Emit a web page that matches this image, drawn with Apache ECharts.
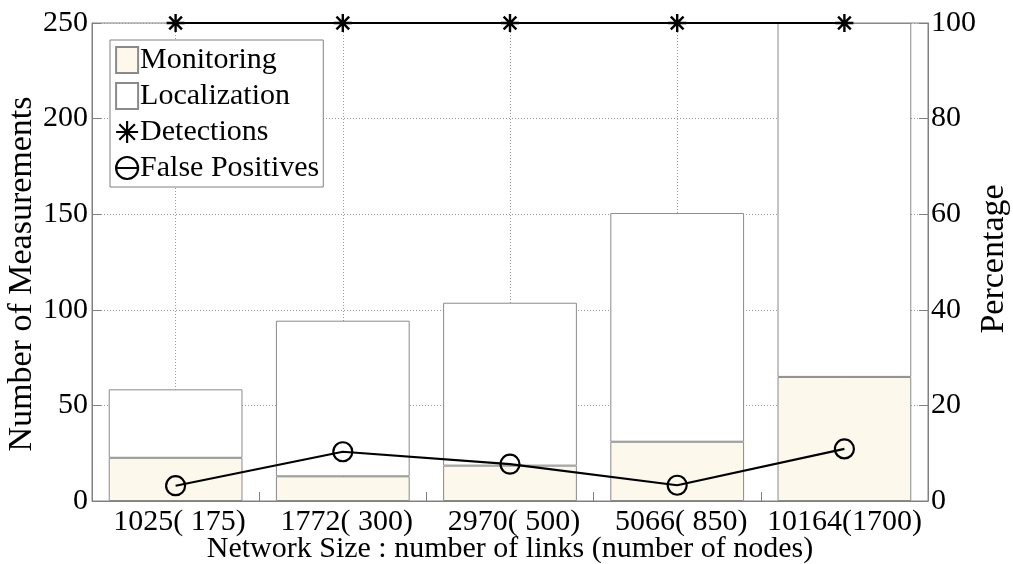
<!DOCTYPE html>
<html>
<head>
<meta charset="utf-8">
<script src="https://cdn.jsdelivr.net/npm/echarts@6/dist/echarts.min.js"></script>
<style>
html,body{margin:0;padding:0;background:#fff;}
#chart{width:1013px;height:564px;}
</style>
</head>
<body>
<div id="chart"></div>
<script>
const categories = ['1025( 175)', '1772( 300)', '2970( 500)', '5066( 850)', '10164(1700)'];
const monitoring = [22.6, 12.9, 18.5, 31.0, 64.9];
const totals = [58.4, 94.3, 103.7, 150.6, 250];
const localization = totals.map((t, i) => +(t - monitoring[i]).toFixed(1));
const detections = [100, 100, 100, 100, 100];
const falsePositives = [3.2, 10.3, 7.7, 3.3, 10.9];
const leftTicks = { min: 0, max: 250, interval: 50 };
const rightTicks = { min: 0, max: 100, interval: 20 };

const FONT = 'Liberation Serif';
const AXIS_COLOR = '#808080';
const GRID_COLOR = '#9a9a9a';
const ASTERISK = 'path://M0,-10 L0,10 M-10,0 L10,0 M-7.07,-7.07 L7.07,7.07 M-7.07,7.07 L7.07,-7.07';
const THETA = 'path://M-10,0 A10,10 0 1,0 10,0 A10,10 0 1,0 -10,0 Z M-10,0 L10,0';

const chart = echarts.init(document.getElementById('chart'), null, { renderer: 'canvas' });

const tickLabel = { color: '#000', fontFamily: FONT, fontSize: 30 };

// labels containing "( " sit slightly right of their tick in the reference
const categoryItems = categories.map(c => c.indexOf('( ') >= 0
  ? { value: c, textStyle: { padding: [0, 0, 0, 8] } }
  : { value: c });

const option = {
  animation: false,
  backgroundColor: '#fff',
  grid: { left: 92, right: 85, top: 23, bottom: 63, show: true, borderColor: AXIS_COLOR, borderWidth: 1, backgroundColor: '#fff', containLabel: false, outerBoundsMode: 'none' },
  legend: {
    orient: 'vertical',
    left: 110,
    top: 40,
    padding: [5, 4, 4, 5],
    itemGap: 6,
    itemWidth: 22,
    itemHeight: 26,
    borderColor: AXIS_COLOR,
    borderWidth: 1,
    backgroundColor: '#fff',
    textStyle: { color: '#000', fontFamily: FONT, fontSize: 30, lineHeight: 27, padding: [0, 0, 0, -3] },
    data: [
      { name: 'Monitoring', icon: 'rect' },
      { name: 'Localization', icon: 'rect' },
      { name: 'Detections', icon: ASTERISK, itemStyle: { color: 'transparent', borderColor: '#000', borderWidth: 2.2 } },
      { name: 'False Positives', icon: THETA, itemStyle: { color: 'transparent', borderColor: '#000', borderWidth: 2.2 } }
    ]
  },
  xAxis: [
    {
      type: 'category',
      data: categoryItems,
      position: 'bottom',
      name: 'Network Size : number of links (number of nodes)',
      nameLocation: 'middle',
      nameGap: 33,
      nameMoveOverlap: false,
      nameTextStyle: { color: '#000', fontFamily: FONT, fontSize: 30 },
      axisLine: { lineStyle: { color: AXIS_COLOR, width: 1 } },
      axisTick: { show: true, inside: true, alignWithLabel: true, length: 9, lineStyle: { color: AXIS_COLOR } },
      axisLabel: Object.assign({ margin: 6, interval: 0 }, tickLabel),
      splitLine: { show: true, alignWithLabel: true, lineStyle: { color: GRID_COLOR, type: [1, 2], width: 1 } }
    },
    {
      type: 'category',
      data: categories,
      position: 'bottom',
      axisLine: { show: false },
      axisTick: { show: true, inside: true, length: 9, lineStyle: { color: AXIS_COLOR } },
      axisLabel: { show: false },
      splitLine: { show: false }
    }
  ],
  yAxis: [
    {
      type: 'value',
      min: leftTicks.min, max: leftTicks.max, interval: leftTicks.interval,
      position: 'left',
      name: 'Number of Measurements',
      nameLocation: 'middle',
      nameRotate: 90,
      nameGap: 53,
      nameMoveOverlap: false,
      nameTextStyle: { color: '#000', fontFamily: FONT, fontSize: 34, padding: [0, 24, 0, 0] },
      axisLine: { show: true, lineStyle: { color: AXIS_COLOR, width: 1 } },
      axisTick: { show: true, inside: true, length: 9, lineStyle: { color: AXIS_COLOR } },
      axisLabel: Object.assign({ margin: 4 }, tickLabel),
      splitLine: { show: true, lineStyle: { color: GRID_COLOR, type: [1, 2], width: 1 } }
    },
    {
      type: 'value',
      min: rightTicks.min, max: rightTicks.max, interval: rightTicks.interval,
      position: 'right',
      name: 'Percentage',
      nameLocation: 'middle',
      nameRotate: 90,
      nameGap: 49,
      nameMoveOverlap: false,
      nameTextStyle: { color: '#000', fontFamily: FONT, fontSize: 34, padding: [0, 0, 0, 6] },
      axisLine: { show: true, lineStyle: { color: AXIS_COLOR, width: 1 } },
      axisTick: { show: true, inside: true, length: 9, lineStyle: { color: AXIS_COLOR } },
      axisLabel: Object.assign({ margin: 3 }, tickLabel),
      splitLine: { show: false }
    }
  ],
  series: [
    {
      name: 'Monitoring', type: 'bar', stack: 'm', barWidth: '80%', xAxisIndex: 0, yAxisIndex: 0,
      data: monitoring,
      itemStyle: { color: '#FCF8EC', borderColor: '#8a8a8a', borderWidth: 1 }
    },
    {
      name: 'Localization', type: 'bar', stack: 'm', barWidth: '80%', xAxisIndex: 0, yAxisIndex: 0,
      data: localization,
      itemStyle: { color: '#ffffff', borderColor: '#8a8a8a', borderWidth: 1 }
    },
    {
      name: 'Detections', type: 'line', xAxisIndex: 0, yAxisIndex: 1, clip: false,
      data: detections,
      symbol: ASTERISK, symbolSize: 18, showAllSymbol: true,
      lineStyle: { color: '#000', width: 2 },
      itemStyle: { color: 'transparent', borderColor: '#000', borderWidth: 2.4 },
      z: 5
    },
    {
      name: 'False Positives', type: 'line', xAxisIndex: 0, yAxisIndex: 1, clip: false,
      data: falsePositives,
      symbol: 'circle', symbolSize: 19, showAllSymbol: true,
      lineStyle: { color: '#000', width: 2.2 },
      itemStyle: { color: 'transparent', borderColor: '#000', borderWidth: 2.2 },
      z: 5
    }
  ]
};
chart.setOption(option);
</script>
</body>
</html>
